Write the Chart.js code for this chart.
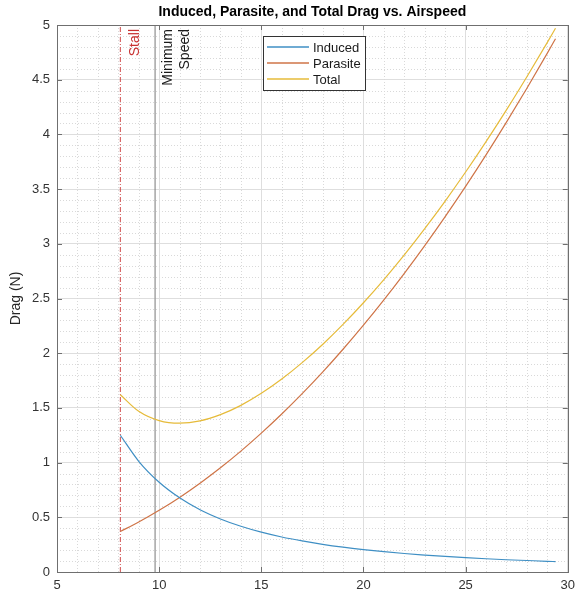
<!DOCTYPE html>
<html lang="en">
<head>
<meta charset="UTF-8">
<title>Induced, Parasite, and Total Drag vs. Airspeed</title>
<script src="https://cdn.jsdelivr.net/npm/chart.js"></script>
<style>
  html, body { margin: 0; padding: 0; background: #fff; }
  #wrap { width: 581px; height: 599px; position: relative; }
</style>
</head>
<body>
<div id="wrap"><canvas id="dragChart"></canvas></div>
<script>
// airspeed samples and drag values (N)
const airspeed = [8.1, 9, 10, 11, 12, 13, 14, 15, 16, 17, 18, 19, 20, 21, 22, 23, 24, 25, 26, 27, 28, 29, 29.4];
const induced  = [1.250, 1.012, 0.820, 0.678, 0.569, 0.485, 0.418, 0.364, 0.320, 0.284, 0.253, 0.227, 0.205, 0.186, 0.169, 0.155, 0.142, 0.131, 0.121, 0.112, 0.105, 0.098, 0.095];
const parasite = [0.370, 0.457, 0.564, 0.682, 0.812, 0.953, 1.105, 1.269, 1.444, 1.630, 1.827, 2.036, 2.256, 2.487, 2.730, 2.984, 3.249, 3.525, 3.813, 4.112, 4.422, 4.743, 4.875];
const total    = [1.620, 1.469, 1.384, 1.360, 1.381, 1.438, 1.523, 1.633, 1.764, 1.914, 2.080, 2.263, 2.461, 2.673, 2.899, 3.139, 3.391, 3.656, 3.934, 4.224, 4.527, 4.841, 4.970];

const seriesNames = ['Induced', 'Parasite', 'Total'];
const seriesColors = ['#3f8fc4', '#cf7447', '#e6bb3a'];

// reference speeds marked with vertical lines
const stallSpeed = 8.1;
const minSpeed = 9.8;

const xTickLabels = ['5', '10', '15', '20', '25', '30'];
const yTickLabels = ['0', '0.5', '1', '1.5', '2', '2.5', '3', '3.5', '4', '4.5', '5'];

const FONT = '"Liberation Sans", Arial, Helvetica, sans-serif';

const pts = ys => airspeed.map((x, i) => ({ x: x, y: ys[i] }));
const vline = x => [{ x: x, y: 0 }, { x: x, y: 5 }];

const curves = [induced, parasite, total].map((ys, i) => ({
  label: seriesNames[i],
  data: pts(ys),
  borderColor: seriesColors[i],
  borderWidth: 1.2,
  pointRadius: 0,
  cubicInterpolationMode: 'monotone',
  fill: false
}));

// minor grid, box, inward ticks, line labels and legend
const matlabAxes = {
  id: 'matlabAxes',
  beforeDatasetsDraw(chart) {
    const { ctx, chartArea: a, scales: { x, y } } = chart;
    ctx.save();
    ctx.strokeStyle = '#d9d9d9';
    ctx.lineWidth = 1;
    ctx.setLineDash([1, 2]);
    for (let v = 6; v < 30; v++) {
      if (v % 5 === 0) continue;
      const px = Math.round(x.getPixelForValue(v)) + 0.5;
      ctx.beginPath(); ctx.moveTo(px, a.top); ctx.lineTo(px, a.bottom); ctx.stroke();
    }
    for (let k = 1; k < 50; k++) {
      if (k % 5 === 0) continue;
      const py = Math.round(y.getPixelForValue(k / 10)) + 0.5;
      ctx.beginPath(); ctx.moveTo(a.left, py); ctx.lineTo(a.right, py); ctx.stroke();
    }
    ctx.restore();
  },
  afterDatasetsDraw(chart) {
    const { ctx, chartArea: a, scales: { x, y } } = chart;
    ctx.save();
    // box
    ctx.strokeStyle = '#6f6f6f';
    ctx.lineWidth = 1;
    ctx.setLineDash([]);
    ctx.strokeRect(Math.round(a.left) + 0.5, Math.round(a.top) + 0.5,
      Math.round(a.right - a.left), Math.round(a.bottom - a.top));
    // inward ticks on all sides
    const tl = 5;
    ctx.beginPath();
    xTickLabels.forEach(t => {
      const px = Math.round(x.getPixelForValue(+t)) + 0.5;
      ctx.moveTo(px, a.bottom); ctx.lineTo(px, a.bottom - tl);
      ctx.moveTo(px, a.top); ctx.lineTo(px, a.top + tl);
    });
    yTickLabels.forEach(t => {
      const py = Math.round(y.getPixelForValue(+t)) + 0.5;
      ctx.moveTo(a.left, py); ctx.lineTo(a.left + tl, py);
      ctx.moveTo(a.right, py); ctx.lineTo(a.right - tl, py);
    });
    ctx.stroke();

    // rotated labels beside the vertical lines
    ctx.font = '14px ' + FONT;
    ctx.textAlign = 'right';
    ctx.textBaseline = 'alphabetic';
    const sx = x.getPixelForValue(stallSpeed);
    const mx = x.getPixelForValue(minSpeed);
    const drawUp = (txt, px, py, col) => {
      ctx.save();
      ctx.translate(px, py);
      ctx.rotate(-Math.PI / 2);
      ctx.fillStyle = col;
      ctx.fillText(txt, 0, 0);
      ctx.restore();
    };
    drawUp('Stall', sx + 19, a.top + 4, '#c83232');
    drawUp('Minimum', mx + 17, a.top + 4, '#1a1a1a');
    drawUp('Speed', mx + 34, a.top + 4, '#1a1a1a');

    // legend box
    const lx = 263, ly = 36, lw = 102, lh = 54;
    ctx.fillStyle = '#fff';
    ctx.fillRect(lx, ly, lw, lh);
    ctx.strokeStyle = '#333';
    ctx.lineWidth = 1;
    ctx.strokeRect(lx + 0.5, ly + 0.5, lw, lh);
    ctx.font = '13px ' + FONT;
    ctx.textAlign = 'left';
    ctx.textBaseline = 'middle';
    seriesNames.forEach((name, i) => {
      const ry = ly + 11 + i * 16;
      ctx.beginPath();
      ctx.strokeStyle = seriesColors[i];
      ctx.lineWidth = 1.4;
      ctx.moveTo(lx + 4, ry); ctx.lineTo(lx + 46, ry);
      ctx.stroke();
      ctx.fillStyle = '#1a1a1a';
      ctx.fillText(name, lx + 50, ry + 1);
    });

    // title
    ctx.font = 'bold 14px ' + FONT;
    ctx.textAlign = 'center';
    ctx.textBaseline = 'middle';
    ctx.fillStyle = '#000';
    ctx.fillText('Induced, Parasite, and Total Drag vs. Airspeed', (a.left + a.right) / 2, 12);
    ctx.restore();
  }
};

new Chart(document.getElementById('dragChart'), {
  type: 'line',
  data: {
    datasets: [
      ...curves,
      { label: 'Stall', data: vline(stallSpeed), borderColor: '#d04a4a', borderWidth: 1,
        borderDash: [5, 2, 1, 2], pointRadius: 0 },
      { label: 'Minimum Speed', data: vline(minSpeed), borderColor: '#777', borderWidth: 1,
        pointRadius: 0 }
    ]
  },
  options: {
    responsive: true,
    maintainAspectRatio: false,
    animation: false,
    layout: { padding: { top: 25, right: 8, left: 0, bottom: 0 } },
    plugins: {
      legend: { display: false },
      title: { display: false },
      tooltip: { enabled: false }
    },
    scales: {
      x: {
        type: 'linear',
        min: 5, max: 30,
        afterFit: s => { s.height = 27; },
        afterBuildTicks: s => { s.ticks = xTickLabels.map(v => ({ value: +v })); },
        ticks: {
          padding: 6,
          color: '#333',
          font: { family: FONT, size: 13 },
          callback: v => String(v)
        },
        grid: { color: '#dedede', drawTicks: false },
        border: { display: false }
      },
      y: {
        min: 0, max: 5,
        afterFit: s => { s.width = 57; },
        afterBuildTicks: s => { s.ticks = yTickLabels.map(v => ({ value: +v })); },
        ticks: {
          padding: 7,
          color: '#333',
          font: { family: FONT, size: 13 },
          callback: v => String(v)
        },
        title: {
          display: true,
          text: 'Drag (N)',
          color: '#262626',
          font: { family: FONT, size: 14 },
          padding: { top: 8, bottom: 0 }
        },
        grid: { color: '#dedede', drawTicks: false },
        border: { display: false }
      }
    }
  },
  plugins: [matlabAxes]
});
</script>
</body>
</html>
